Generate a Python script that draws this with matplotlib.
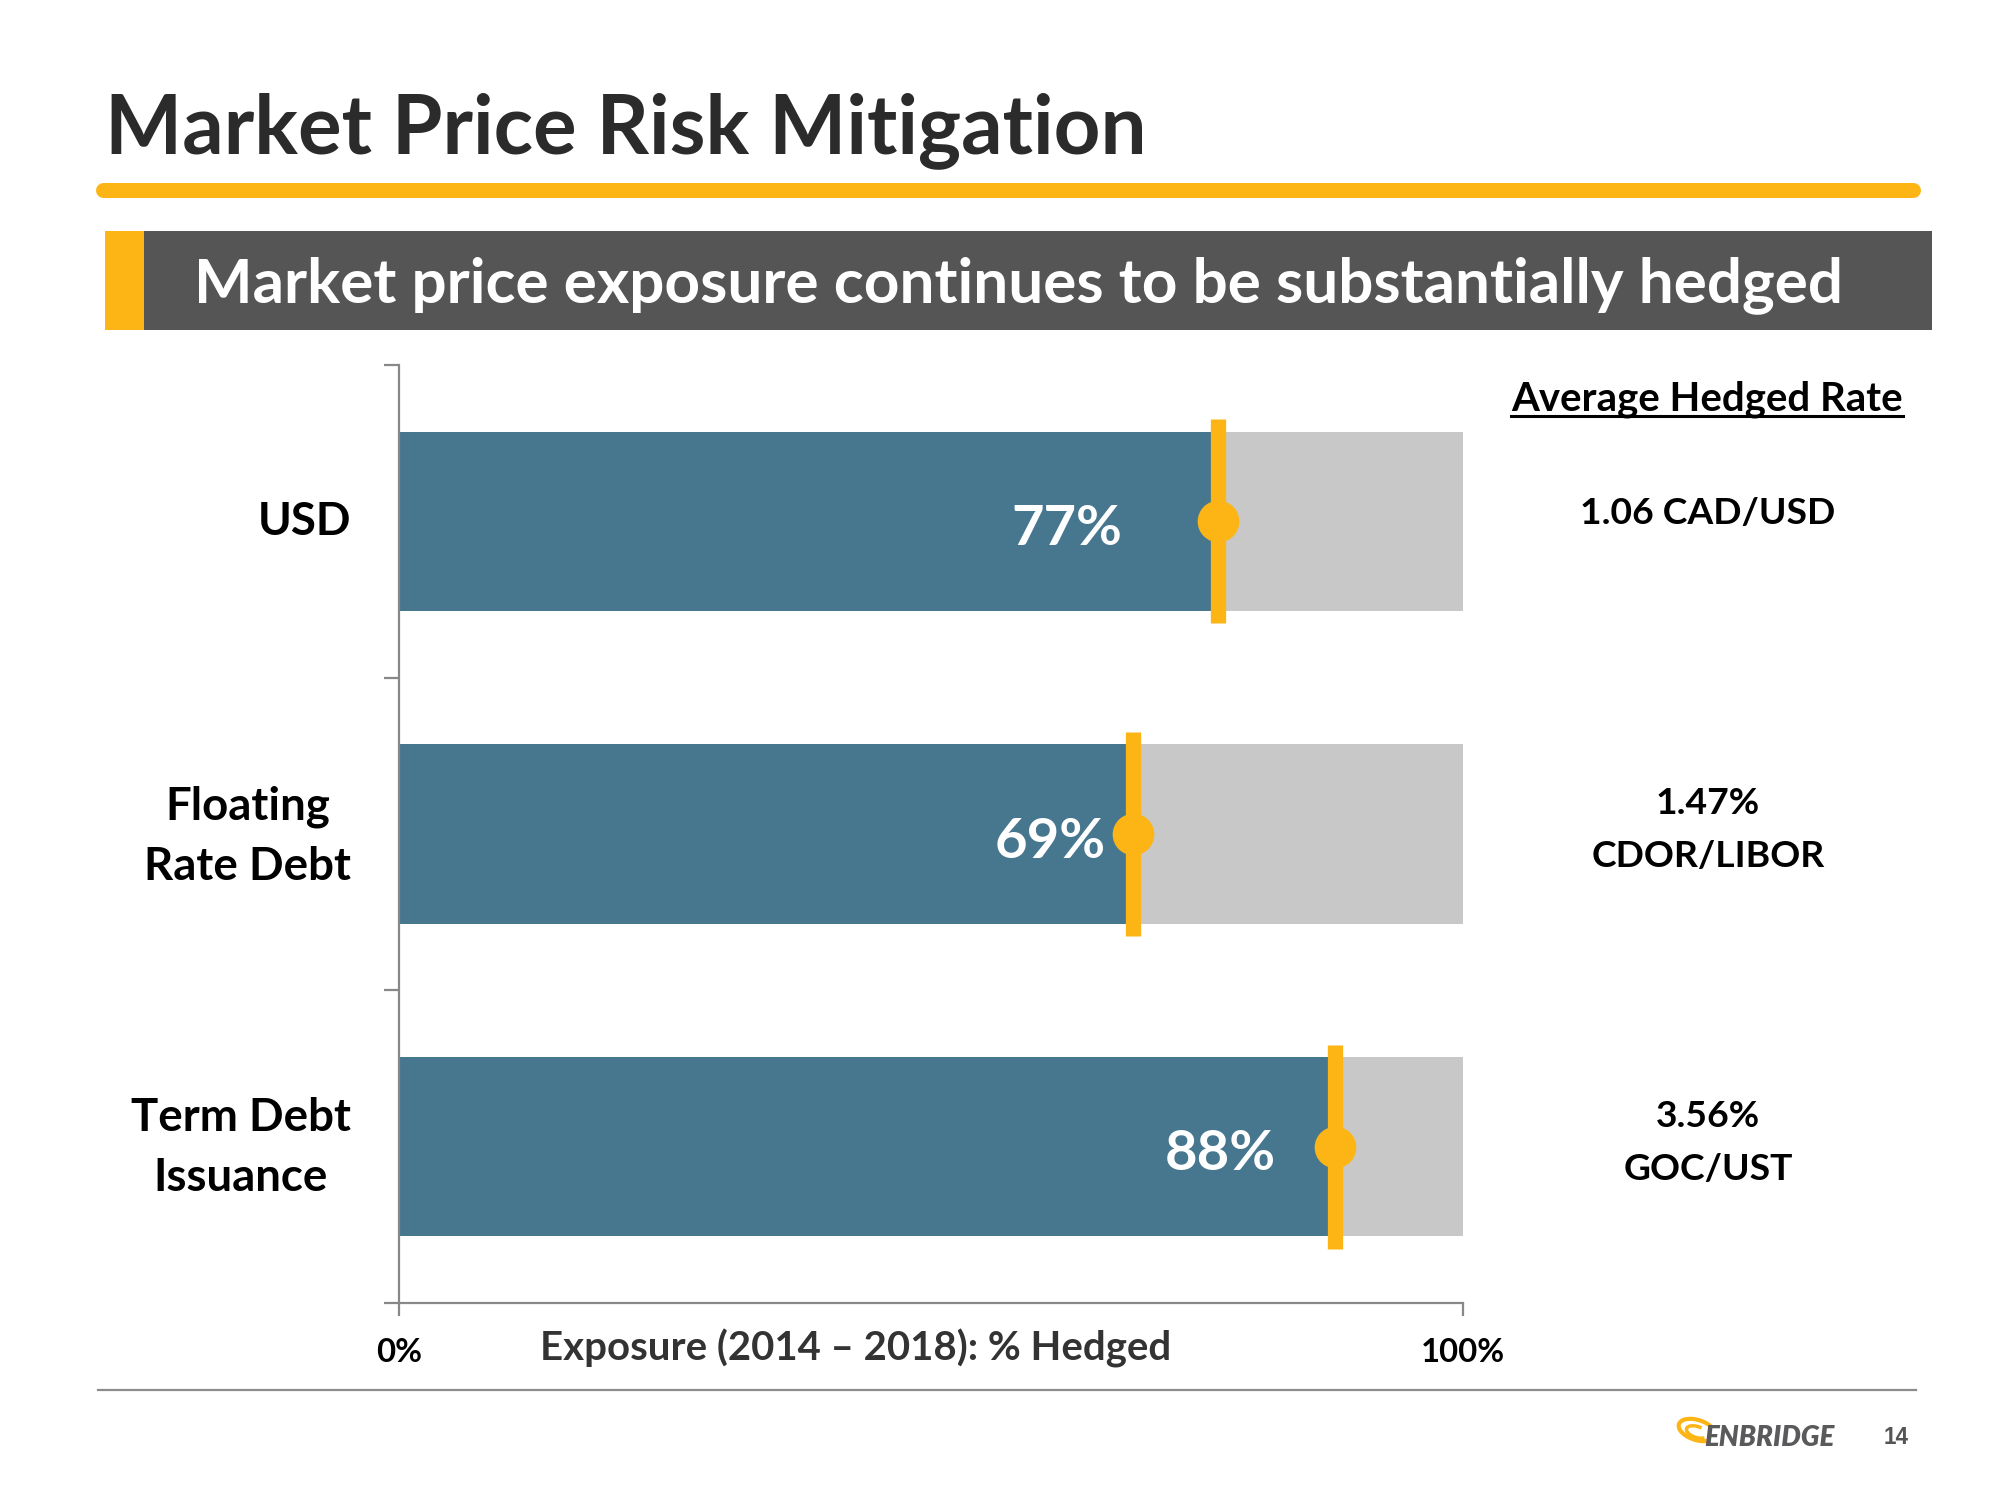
import matplotlib
matplotlib.use('Agg')
import matplotlib.pyplot as plt
from matplotlib.patches import Rectangle, Arc

# ---------------- data ----------------
categories = ['USD', 'Floating\nRate Debt', 'Term Debt\nIssuance']
hedged_pct = [77, 69, 88]
total_pct = [100, 100, 100]
avg_rates = ['1.06 CAD/USD', '1.47%\nCDOR/LIBOR', '3.56%\nGOC/UST']
x_ticks = [0, 100]
x_tick_labels = ['0%', '100%']
title = 'Market Price Risk Mitigation'
subtitle = 'Market price exposure continues to be substantially hedged'
x_label = 'Exposure (2014 \u2013 2018): % Hedged'
rate_header = 'Average Hedged Rate'
page_no = '14'

# ---------------- style ----------------
FONT = ['Lato', 'DejaVu Sans']
ORANGE = '#FDB515'
BLUE = '#46778F'
GREY_BAR = '#C8C8C8'
DARK = '#2B2B2B'
BANNER = '#555555'
SPINE = '#888888'

W, H = 2000, 1500
fig = plt.figure(figsize=(20, 15), dpi=100)
renderer = fig.canvas.get_renderer()

# background overlay axes in pixel coords (y downwards)
bg = fig.add_axes([0, 0, 1, 1], zorder=0)
bg.set_xlim(0, W)
bg.set_ylim(H, 0)
bg.axis('off')


def fit(t, target):
    w = t.get_window_extent(renderer).width
    t.set_fontsize(t.get_fontsize() * target / w)
    return t


def txt(x, y, s, target=None, **kw):
    kw.setdefault('family', FONT)
    kw.setdefault('fontweight', 'bold')
    kw.setdefault('fontsize', 30)
    t = bg.text(x, y, s, **kw)
    if target:
        fit(t, target)
    return t


# title + rule
txt(105, 153, title, target=1041, ha='left', va='baseline', color=DARK)
bg.plot([103, 1913], [189.5, 189.5], color=ORANGE, lw=10.8, solid_capstyle='round')

# banner
bg.add_patch(Rectangle((105, 231), 1932 - 105, 330 - 231, color=BANNER, lw=0))
bg.add_patch(Rectangle((105, 231), 144 - 105, 330 - 231, color=ORANGE, lw=0))
txt(194, 302, subtitle, target=1647, ha='left', va='baseline', color='white')

# bottom rule
bg.plot([98, 1916], [1390, 1390], color='#8C8C8C', lw=1.6)

# logo
bg.add_patch(Arc((1697, 1430), 38, 20, angle=18, theta1=30, theta2=330, color=ORANGE, lw=3))
bg.add_patch(Arc((1697, 1432), 22, 11, angle=18, theta1=20, theta2=300, color=ORANGE, lw=2.5))
txt(1704, 1438, 'ENBRIDGE', target=130, ha='left', va='center', color='#5A5A5C',
    fontstyle='italic', fontweight='heavy')
txt(1896, 1437, page_no, target=25, ha='center', va='center', color='#555555',
    family=['Liberation Sans', 'DejaVu Sans'])

# ---------------- chart ----------------
ax = fig.add_axes([399 / W, 1 - 1303 / H, (1463 - 399) / W, (1303 - 365) / H], zorder=1)
ax.patch.set_alpha(0)
ypos = list(range(len(categories)))
bar_h = 0.573
ax.barh(ypos, total_pct, height=bar_h, color=GREY_BAR, zorder=1)
ax.barh(ypos, hedged_pct, height=bar_h, color=BLUE, zorder=2)
ax.vlines(hedged_pct, [y - 0.326 for y in ypos], [y + 0.326 for y in ypos],
          colors=ORANGE, lw=11, zorder=3)
ax.plot(hedged_pct, ypos, 'o', ms=29, color=ORANGE, zorder=4, ls='none')
ax.set_xlim(0, 100)
ax.set_ylim(len(categories) - 0.5, -0.5)
for s in ['top', 'right']:
    ax.spines[s].set_visible(False)
for s in ['left', 'bottom']:
    ax.spines[s].set_color(SPINE)
    ax.spines[s].set_linewidth(1.6)
ax.set_yticks([i - 0.5 for i in range(len(categories) + 1)])
ax.set_yticklabels([])
ax.set_xticks(x_ticks)
ax.set_xticklabels([])
ax.tick_params(axis='y', length=11, width=1.6, color=SPINE, direction='out')
ax.tick_params(axis='x', length=9, width=1.6, color=SPINE, direction='out')

# value labels inside bars
label_shift = [9.0, 2.6, 5.6]
vt = []
for y, v, sh in zip(ypos, hedged_pct, label_shift):
    t = ax.text(v - sh, y + 0.025, f'{v}%', ha='right', va='center', color='white',
                family=FONT, fontweight='bold', fontsize=40)
    vt.append(t)
fit(vt[0], 111)
for t in vt[1:]:
    t.set_fontsize(vt[0].get_fontsize())


def two_line(x, yc, s, size, gap, **kw):
    lines = s.split('\n')
    n = len(lines)
    out = []
    for i, ln in enumerate(lines):
        yy = yc + (i - (n - 1) / 2) * gap
        out.append(txt(x, yy, ln, fontsize=size, va='center', **kw))
    return out


# category labels: right-aligned blocks with centered lines
probe = txt(0, 0, 'Rate Debt', target=207)
cat_fs = probe.get_fontsize()
probe.remove()
cat_centers = [522, 837, 1148]
for lab, yc in zip(categories, cat_centers):
    lines = lab.split('\n')
    widths = []
    for ln in lines:
        p = txt(0, 0, ln, fontsize=cat_fs)
        widths.append(p.get_window_extent(renderer).width)
        p.remove()
    cx = 351 - max(widths) / 2
    two_line(cx, yc, lab, cat_fs, 60, ha='center', color='black')

# average hedged rate column
hdr = txt(1707, 399, rate_header, target=390, ha='center', va='center', color='black')
bb = hdr.get_window_extent(renderer)
bg.plot([1707 - bb.width / 2, 1707 + bb.width / 2], [416, 416], color='black', lw=2.2)
probe = txt(0, 0, 'CDOR/LIBOR', target=233)
rate_fs = probe.get_fontsize()
probe.remove()
rate_centers = [514, 830, 1143]
for lab, yc in zip(avg_rates, rate_centers):
    two_line(1708, yc, lab, rate_fs, 53, ha='center', color='black')

# x tick labels and axis label
t0 = txt(399, 1353, x_tick_labels[0], target=46, ha='center', va='center', color='black')
txt(1463, 1353, x_tick_labels[1], fontsize=t0.get_fontsize(), ha='center', va='center', color='black')
txt(540, 1348, x_label, target=630, ha='left', va='center', color='#333333')

fig.savefig('out.png', dpi=100)
